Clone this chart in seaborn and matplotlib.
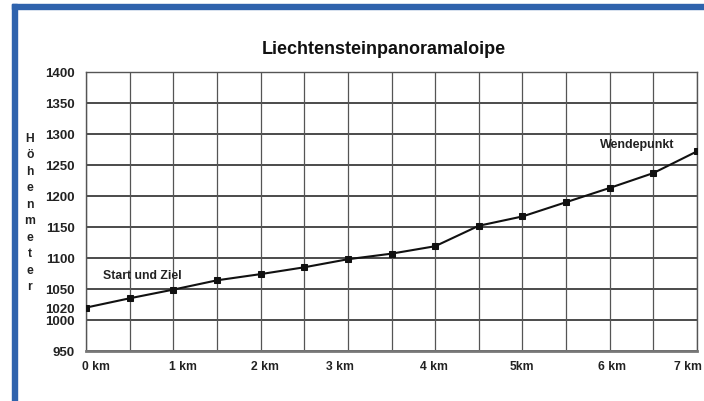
import matplotlib
matplotlib.use("Agg")
import matplotlib.pyplot as plt
import seaborn as sns
import pandas as pd
from matplotlib.patches import Rectangle

# Data
distance_km = [0, 0.5, 1, 1.5, 2, 2.5, 3, 3.5, 4, 4.5, 5, 5.5, 6, 6.5, 7]
elevation_m = [1020, 1035, 1049, 1064, 1074, 1085, 1098, 1107, 1119, 1152, 1167, 1190, 1213, 1237, 1272]
y_ticks = [950, 1000, 1020, 1050, 1100, 1150, 1200, 1250, 1300, 1350, 1400]
x_tick_labels = ["0 km", "1 km", "2 km", "3 km", "4 km", "5km", "6 km", "7 km"]
x_tick_label_pos = [0.11, 1.11, 2.05, 2.91, 3.99, 4.99, 6.03, 6.90]
title = "Liechtensteinpanoramaloipe"
ylabel = "Höhenmeter"

sns.set_style("white")
plt.rcParams['font.family'] = ['Liberation Sans', 'DejaVu Sans']

df = pd.DataFrame({"km": distance_km, "m": elevation_m})

fig = plt.figure(figsize=(7.04, 4.02), dpi=100)
ax = fig.add_axes([86/704, 1 - 352/402, (697 - 86)/704, (352 - 73)/402])

# grid
for v in range(950, 1401, 50):
    ax.axhline(v, color="#1a1a1a", lw=1.1, zorder=1)
for k in [i * 0.5 for i in range(15)]:
    ax.axvline(k, color="#555555", lw=0.9, zorder=1)

sns.lineplot(data=df, x="km", y="m", ax=ax, color="#111111", lw=1.5,
             marker="s", markersize=4.5, markeredgecolor="#111111",
             markerfacecolor="#111111", zorder=3)

ax.set_xlim(0, 7)
ax.set_ylim(950, 1400)
ax.set_yticks(y_ticks)
ax.set_yticklabels([str(v) for v in y_ticks], fontsize=9.5, fontweight="bold", color="#222222")
ax.set_xticks([])
ax.tick_params(axis="y", length=0, pad=8)
ax.set_xlabel("")
ax.set_ylabel("")

for s in ["left", "right", "top"]:
    ax.spines[s].set_color("#555555")
    ax.spines[s].set_linewidth(1.0)
ax.spines["bottom"].set_color("#777777")
ax.spines["bottom"].set_linewidth(2.0)

trans = ax.get_xaxis_transform()
for lab, pos in zip(x_tick_labels, x_tick_label_pos):
    ax.text(pos, -0.033, lab, transform=trans, ha="center", va="top",
            fontsize=8.7, fontweight="bold", color="#222222")

ax.text(0.19, 1073, "Start und Ziel", fontsize=8.8, fontweight="bold",
        color="#222222", ha="left", va="center", zorder=4)
ax.text(5.89, 1284, "Wendepunkt", fontsize=9, fontweight="bold",
        color="#222222", ha="left", va="center", zorder=4)

fig.text(0.545, 1 - 50/402, title, ha="center", va="center",
         fontsize=13, fontweight="bold", color="#111111")

fig.text(30/704, 1 - 213/402, "\n".join(ylabel), ha="center", va="center",
         fontsize=8.7, fontweight="bold", color="#222222", linespacing=1.5)

# blue frame (top and left)
fig.patches.append(Rectangle((12/704, 0), 5/704, 1 - 5/402, transform=fig.transFigure,
                             color="#2F63AD", zorder=0))
fig.patches.append(Rectangle((12/704, 1 - 10/402), 1 - 12/704, 5/402, transform=fig.transFigure,
                             color="#2F63AD", zorder=0))

fig.savefig("out.png", dpi=100)
